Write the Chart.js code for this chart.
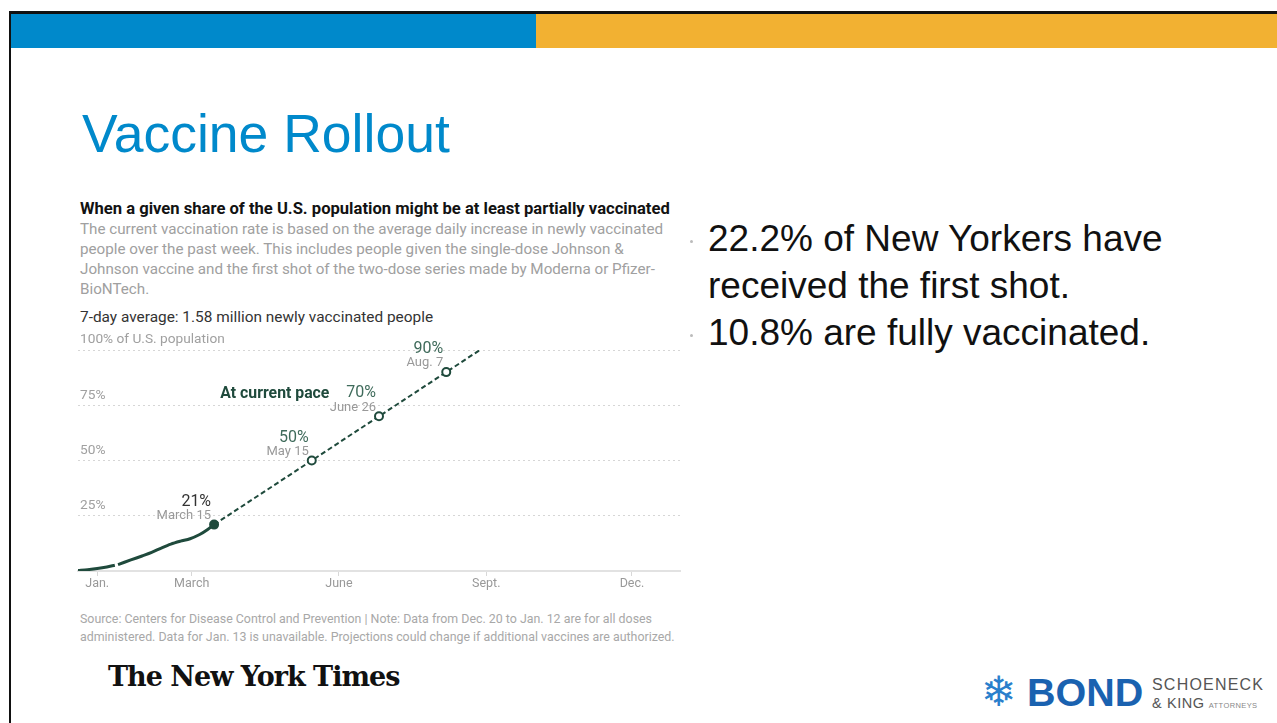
<!DOCTYPE html>
<html>
<head>
<meta charset="utf-8">
<script src="https://cdn.jsdelivr.net/npm/chart.js@4"></script>
<style>
  body { margin: 0; background: #fff; }
  #slide { position: relative; width: 1277px; height: 723px; overflow: hidden; font-family: 'Liberation Sans', Arial, sans-serif; }
  .abs { position: absolute; white-space: nowrap; }
  #frameTop { left: 9px; top: 11px; width: 1268px; height: 3px; background: #111; }
  #frameLeft { left: 9px; top: 11px; width: 2px; height: 712px; background: #111; }
  #barBlue { left: 11px; top: 14px; width: 525px; height: 34px; background: #0089cb; }
  #barGold { left: 536px; top: 14px; width: 741px; height: 34px; background: #f2b132; }
  #title { left: 82px; top: 103px; font-size: 53.5px; color: #0089cb; }
  .nyt { font-family: 'Liberation Sans Narrow', 'Arial Narrow', 'Roboto', sans-serif; }
  #chartTitle { left: 80px; top: 199px; font-size: 16.6px; font-weight: bold; color: #121212; }
  #chartDesc { left: 80px; top: 219px; font-size: 15.2px; line-height: 20px; color: #a0a0a0; }
  #avg { left: 80px; top: 308px; font-size: 15.4px; color: #333; }
  #source { left: 80px; top: 610px; font-size: 12.4px; line-height: 18px; color: #a8a8a8; }
  #nytLogo { left: 108px; top: 661px; font-family: 'DejaVu Serif', serif; font-weight: bold; font-size: 27px; color: #111; letter-spacing: -1px; }
  #bullets { left: 708px; top: 215px; font-size: 37px; line-height: 47px; color: #111; }
  .dot { position: absolute; width: 3px; height: 3px; border-radius: 2px; background: #bbb; }
  #flake { left: 981px; top: 671px; font-family: 'DejaVu Sans', sans-serif; font-size: 42px; line-height: 42px; color: #2a7fcc; }
  #bondWord { left: 1027px; top: 672px; font-family: 'Liberation Sans', Arial, sans-serif; font-weight: bold; font-size: 39.5px; line-height: 40px; color: #1a62b0; }
  #schoen { left: 1152px; top: 675.5px; font-size: 16px; letter-spacing: 1.2px; color: #555; }
  #king { left: 1152px; top: 694.5px; font-size: 14.5px; letter-spacing: 0.6px; color: #555; }
  #king .a { font-size: 7.5px; letter-spacing: 0.4px; color: #888; margin-left: 4px; }
  #chartBox { position: absolute; left: 70px; top: 330px; width: 620px; height: 270px; }
</style>
</head>
<body>
<div id="slide">
  <div class="abs" id="frameTop"></div>
  <div class="abs" id="frameLeft"></div>
  <div class="abs" id="barBlue"></div>
  <div class="abs" id="barGold"></div>
  <div class="abs" id="title">Vaccine Rollout</div>

  <div class="abs nyt" id="chartTitle">When a given share of the U.S. population might be at least partially vaccinated</div>
  <div class="abs nyt" id="chartDesc">The current vaccination rate is based on the average daily increase in newly vaccinated<br>people over the past week. This includes people given the single-dose Johnson &amp;<br>Johnson vaccine and the first shot of the two-dose series made by Moderna or Pfizer-<br>BioNTech.</div>
  <div class="abs nyt" id="avg">7-day average: 1.58 million newly vaccinated people</div>

  <div id="chartBox"><canvas id="myChart"></canvas></div>

  <div class="abs nyt" id="source">Source: Centers for Disease Control and Prevention | Note: Data from Dec. 20 to Jan. 12 are for all doses<br>administered. Data for Jan. 13 is unavailable. Projections could change if additional vaccines are authorized.</div>
  <div class="abs" id="nytLogo">The New York Times</div>

  <div class="dot" style="left:690px; top:240px;"></div>
  <div class="dot" style="left:690px; top:334px;"></div>
  <div class="abs" id="bullets">22.2% of New Yorkers have<br>received the first shot.<br>10.8% are fully vaccinated.</div>

  <div class="abs" id="flake">❄</div>
  <div class="abs" id="bondWord">BOND</div>
  <div class="abs" id="schoen">SCHOENECK</div>
  <div class="abs" id="king">&amp; KING<span class="a">ATTORNEYS</span></div>
</div>

<script>
'use strict';
// days counted from Jan. 1, 2021
let histDays = [-12, -6, 0, 6, 11, 12, 13, 21, 28, 34, 40, 46, 52, 58, 64, 69, 73];
let histPct = [0.2, 0.6, 1.1, 1.8, 2.6, null, 2.9, 5.0, 6.8, 8.4, 10.4, 12.2, 13.5, 14.6, 16.5, 18.8, 21];

let projDays = [73, 134, 176, 218, 239];
let projPct = [21, 50, 70, 90, 100];
let markerPct = ['21%', '50%', '70%', '90%'];
let markerDate = ['March 15', 'May 15', 'June 26', 'Aug. 7'];

let monthDays = [0, 59, 151, 243, 334];
let monthLabels = ['Jan.', 'March', 'June', 'Sept.', 'Dec.'];
let yTicks = [0, 25, 50, 75, 100];

let green = '#1f4a3c';
let narrow = "'Liberation Sans Narrow', 'Arial Narrow', Roboto, sans-serif";

function toPoints(xs, ys) {
    let pts = [];
    for (let i = 0; i < xs.length; i++) {
        pts.push({x: xs[i], y: ys[i]});
    }
    return pts;
}

let labelPlugin = {
    id: 'markerLabels',
    afterDatasetsDraw(chart) {
        let ctx = chart.ctx;
        let xs = chart.scales.x;
        let ys = chart.scales.y;
        ctx.save();
        ctx.textAlign = 'right';
        ctx.textBaseline = 'middle';
        for (let i = 0; i < markerPct.length; i++) {
            let px = xs.getPixelForValue(projDays[i]);
            let py = ys.getPixelForValue(projPct[i]);
            ctx.font = '16px ' + narrow;
            ctx.fillStyle = i === 0 ? '#333' : '#3f6b5b';
            ctx.fillText(markerPct[i], px - 3, py - 23);
            ctx.font = '13px ' + narrow;
            ctx.fillStyle = '#999';
            ctx.fillText(markerDate[i], px - 3, py - 9);
        }
        ctx.font = 'bold 15.8px ' + narrow;
        ctx.fillStyle = green;
        ctx.fillText('At current pace', xs.getPixelForValue(145), ys.getPixelForValue(80));
        ctx.restore();
    }
};

let ctx = document.getElementById('myChart').getContext('2d');
let myChart = new Chart(ctx, {
    type: 'line',
    data: {
        datasets: [{
            label: 'Vaccinated so far',
            data: toPoints(histDays, histPct),
            borderColor: green,
            borderWidth: 3,
            pointRadius: 0,
            tension: 0.3,
            spanGaps: false
        }, {
            label: 'At current pace',
            data: toPoints(projDays, projPct),
            borderColor: green,
            borderWidth: 2,
            borderDash: [5, 3],
            pointRadius: [4, 4, 4, 4, 0],
            pointBorderWidth: 2,
            pointBorderColor: green,
            pointBackgroundColor: [green, '#fff', '#fff', '#fff', '#fff'],
            tension: 0
        }]
    },
    options: {
        responsive: true,
        maintainAspectRatio: false,
        animation: false,
        layout: { padding: { left: 8, right: 10, top: 20, bottom: 9 } },
        plugins: { legend: { display: false }, tooltip: { enabled: false } },
        scales: {
            x: {
                type: 'linear',
                min: -12,
                max: 364,
                afterBuildTicks: function (axis) {
                    axis.ticks = monthDays.map(function (d) { return {value: d}; });
                },
                ticks: {
                    autoSkip: false,
                    maxRotation: 0,
                    color: '#999',
                    font: { family: narrow, size: 12.5 },
                    padding: 0,
                    callback: function (v) {
                        let i = monthDays.indexOf(v);
                        return i >= 0 ? monthLabels[i] : '';
                    }
                },
                grid: { drawOnChartArea: false, drawTicks: true, tickLength: 5, color: '#d8d8d8' },
                border: { display: true, color: '#e2e2e2', width: 2 }
            },
            y: {
                min: 0,
                max: 100,
                afterBuildTicks: function (axis) {
                    axis.ticks = yTicks.map(function (v) { return {value: v}; });
                },
                afterFit: function (axis) {
                    axis.width = 0;
                },
                ticks: {
                    mirror: true,
                    padding: 2,
                    labelOffset: -10,
                    color: '#a0a0a0',
                    font: { family: narrow, size: 13.7 },
                    callback: function (v) {
                        if (v === 0) return '';
                        if (v === 100) return '100% of U.S. population';
                        return v + '%';
                    }
                },
                grid: {
                    drawTicks: false,
                    color: function (c) { return c.tick && c.tick.value === 0 ? 'rgba(0,0,0,0)' : '#d6d6d6'; },
                    lineWidth: 1
                },
                border: { display: false, dash: [2, 3] }
            }
        }
    },
    plugins: [labelPlugin]
});
</script>
</body>
</html>
